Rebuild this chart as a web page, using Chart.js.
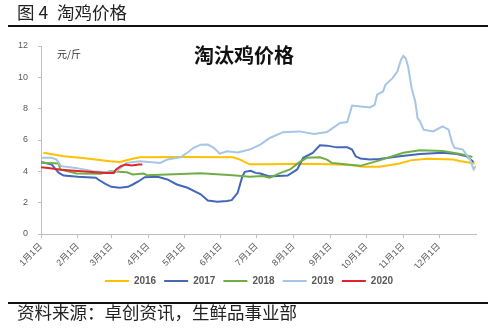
<!DOCTYPE html>
<html>
<head>
<meta charset="utf-8">
<script src="https://cdn.jsdelivr.net/npm/chart.js@4"></script>
<style>
  body { margin: 0; width: 500px; height: 332px; background: #fff; overflow: hidden; position: relative; }
  #wrap { position: absolute; left: 0; top: 0; width: 500px; height: 332px; z-index: 1; }
  .rule { position: absolute; left: 8px; width: 480px; height: 0; border-top: 2px solid #111; z-index: 2; }
</style>
</head>
<body>
<div id="wrap"><canvas id="priceChart"></canvas></div>
<div class="rule" style="top:25px"></div>
<div class="rule" style="top:302px"></div>

<script>
// 月初对应的天数（从1月1日起算）
const monthDays = [0, 31, 59, 90, 120, 151, 181, 212, 243, 273, 304, 334];
const monthLabels = ['1月1日', '2月1日', '3月1日', '4月1日', '5月1日', '6月1日',
                     '7月1日', '8月1日', '9月1日', '10月1日', '11月1日', '12月1日'];
const yearLabels = ['2016', '2017', '2018', '2019', '2020'];

const days2016 = [2, 19, 33, 58, 66, 77, 83, 120, 161, 167, 175, 192, 217, 243, 259, 270, 284, 301, 310, 324, 346, 352, 364];
const price2016 = [5.18, 4.96, 4.86, 4.64, 4.6, 4.8, 4.9, 4.92, 4.9, 4.75, 4.45, 4.45, 4.48, 4.45, 4.4, 4.3, 4.3, 4.5, 4.7, 4.8, 4.75, 4.65, 4.5];

const days2017 = [0, 9, 15, 19, 31, 46, 48, 54, 59, 66, 73, 77, 82, 87, 98, 106, 114, 123, 134, 140, 148, 156, 160, 165, 169, 171, 176, 180, 184, 191, 195, 207, 215, 220, 228, 234, 240, 248, 257, 261, 264, 268, 276, 284, 301, 318, 337, 349, 357, 363];
const price2017 = [4.6, 4.43, 3.9, 3.73, 3.65, 3.59, 3.48, 3.2, 3.01, 2.95, 3.01, 3.16, 3.37, 3.63, 3.65, 3.48, 3.16, 2.95, 2.53, 2.14, 2.06, 2.1, 2.16, 2.63, 3.69, 3.97, 4.03, 3.9, 3.86, 3.69, 3.69, 3.73, 4.12, 4.86, 5.18, 5.66, 5.64, 5.53, 5.53, 5.39, 4.96, 4.82, 4.75, 4.78, 4.96, 5.11, 5.18, 5.11, 4.96, 4.6];

const days2018 = [0, 15, 16, 30, 50, 58, 72, 77, 86, 89, 134, 161, 175, 186, 192, 201, 209, 216, 223, 234, 240, 244, 257, 268, 284, 304, 318, 337, 352, 362];
const price2018 = [4.54, 4.5, 4.12, 3.86, 3.85, 4.0, 3.94, 3.8, 3.86, 3.75, 3.88, 3.75, 3.65, 3.7, 3.59, 3.9, 4.12, 4.54, 4.86, 4.9, 4.75, 4.54, 4.43, 4.35, 4.7, 5.18, 5.34, 5.3, 5.11, 4.92];

const days2019 = [0, 9, 13, 17, 29, 44, 56, 62, 72, 83, 100, 106, 117, 123, 128, 134, 140, 145, 150, 156, 165, 175, 184, 192, 203, 217, 229, 240, 245, 251, 257, 261, 276, 280, 282, 287, 289, 295, 299, 302, 304, 306, 308, 311, 314, 316, 318, 321, 329, 337, 342, 345, 347, 354, 360, 363, 365];
const price2019 = [4.86, 4.86, 4.75, 4.33, 4.22, 4.0, 3.94, 3.92, 4.54, 4.64, 4.54, 4.75, 4.9, 5.2, 5.5, 5.7, 5.71, 5.5, 5.13, 5.28, 5.2, 5.39, 5.71, 6.13, 6.5, 6.55, 6.39, 6.51, 6.77, 7.09, 7.15, 8.2, 8.08, 8.25, 8.89, 9.1, 9.52, 9.95, 10.37, 11.11, 11.37, 11.22, 10.69, 9.31, 8.46, 7.4, 7.19, 6.66, 6.55, 6.87, 6.66, 5.81, 5.5, 5.39, 4.75, 4.12, 4.33];

const days2020 = [0, 6, 15, 25, 40, 54, 61, 63, 67, 71, 76, 82, 85];
const price2020 = [4.26, 4.22, 4.12, 4.05, 3.97, 3.9, 3.9, 4.12, 4.33, 4.43, 4.37, 4.43, 4.43];

const lineColors = ['#ffc000', '#4468b8', '#70ad47', '#a7c5e4', '#e0262c'];

function toPoints(days, values) {
    return days.map((d, i) => ({ x: d, y: values[i] }));
}

const series = [
    toPoints(days2016, price2016),
    toPoints(days2017, price2017),
    toPoints(days2018, price2018),
    toPoints(days2019, price2019),
    toPoints(days2020, price2020)
];

// 2020 画在最上层
const datasets = series.map((pts, i) => ({
    label: yearLabels[i],
    data: pts,
    borderColor: lineColors[i],
    backgroundColor: lineColors[i],
    borderWidth: 2,
    pointRadius: 0,
    tension: 0,
    order: i === 4 ? 0 : 5 - i
}));

const cjk = '"Noto Sans CJK SC", sans-serif';

// 图例整体右移一点，居中于整张图
const legendShift = {
    id: 'legendShift',
    afterLayout(chart) {
        if (chart.legend) {
            chart.legend.left += 11;
            chart.legend.right += 11;
        }
    }
};

// 图号、图内标题、单位、资料来源及分隔线
const pageText = {
    id: 'pageText',
    afterDraw(chart) {
        const c = chart.ctx;
        c.save();
        c.strokeStyle = '#111';
        c.lineWidth = 2;
        c.beginPath();
        c.moveTo(8, 26);
        c.lineTo(488, 26);
        c.moveTo(8, 303);
        c.lineTo(488, 303);
        c.stroke();

        c.textBaseline = 'middle';
        c.textAlign = 'left';
        c.fillStyle = '#222';
        c.font = '17.5px ' + cjk;
        c.fillText('图 4', 17, 12.5);
        c.fillText('淘鸡价格', 57, 12.5);
        c.fillText('资料来源：卓创资讯，生鲜品事业部', 17, 312.5);

        c.fillStyle = '#111';
        c.font = 'bold 20px ' + cjk;
        c.fillText('淘汰鸡价格', 194, 55.5);

        c.fillStyle = '#333';
        c.font = '10px ' + cjk;
        c.fillText('元/斤', 57, 54);
        c.restore();
    }
};

const ctx = document.getElementById('priceChart');
new Chart(ctx, {
    type: 'line',
    data: { datasets: datasets },
    plugins: [legendShift, pageText],
    options: {
        responsive: true,
        maintainAspectRatio: false,
        animation: false,
        layout: { padding: { top: 46, right: 24, left: 0, bottom: 36 } },
        plugins: {
            title: { display: false },
            tooltip: { enabled: false },
            legend: {
                position: 'bottom',
                labels: {
                    usePointStyle: true,
                    pointStyle: 'line',
                    pointStyleWidth: 24,
                    color: '#595959',
                    padding: 8,
                    sort: (a, b) => a.datasetIndex - b.datasetIndex,
                    font: { size: 10, weight: 'bold', family: '"Liberation Sans", sans-serif' }
                }
            }
        },
        scales: {
            x: {
                type: 'linear',
                min: 0,
                max: 365,
                afterBuildTicks: function(scale) {
                    scale.ticks = monthDays.map(v => ({ value: v }));
                },
                afterFit: function(scale) {
                    scale.height = 34;
                },
                ticks: {
                    autoSkip: false,
                    minRotation: 45,
                    maxRotation: 45,
                    color: '#595959',
                    font: { size: 9, family: '"Liberation Sans", "Noto Sans CJK SC", sans-serif' },
                    callback: function(value) {
                        const idx = monthDays.indexOf(value);
                        return idx >= 0 ? monthLabels[idx] : '';
                    }
                },
                grid: { drawOnChartArea: false, drawTicks: true, tickLength: 4, color: '#bfbfbf' },
                border: { color: '#bfbfbf' }
            },
            y: {
                min: 0,
                max: 12,
                afterFit: function(scale) {
                    scale.width = 41;
                },
                ticks: {
                    stepSize: 2,
                    color: '#595959',
                    padding: 10,
                    font: { size: 9, family: '"Liberation Sans", sans-serif' }
                },
                grid: { drawOnChartArea: false, drawTicks: true, tickLength: 3, color: '#bfbfbf' },
                border: { color: '#bfbfbf' }
            }
        }
    }
});
</script>
</body>
</html>
